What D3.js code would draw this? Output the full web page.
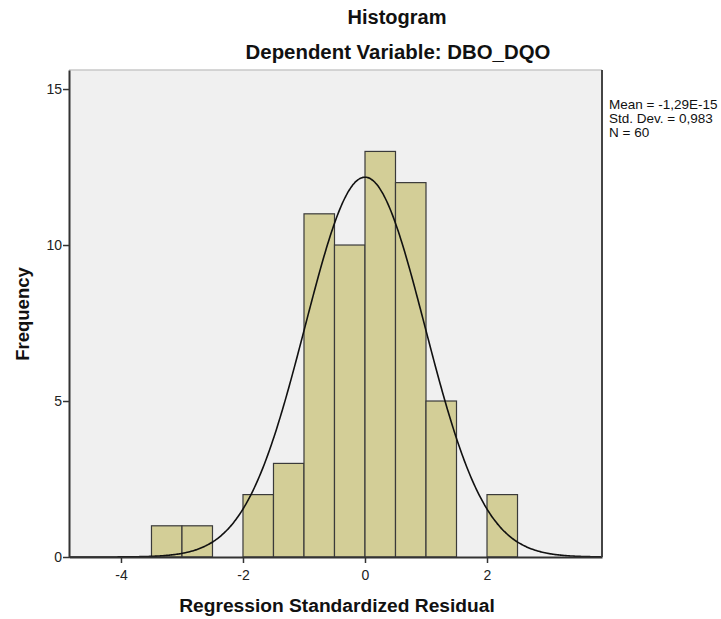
<!DOCTYPE html>
<html>
<head>
<meta charset="utf-8">
<script src="https://cdn.jsdelivr.net/npm/d3@7"></script>
<style>
  body { margin: 0; background: #fff; }
  svg { display: block; font-family: "Liberation Sans", Arial, sans-serif; }
</style>
</head>
<body>
<svg id="chart" width="721" height="619"></svg>
<script>
// Data
const binStarts = [-3.5, -3.0, -2.0, -1.5, -1.0, -0.5, 0.0, 0.5, 1.0, 2.0];
const binWidth = 0.5;
const counts = [1, 1, 2, 3, 11, 10, 13, 12, 5, 2];
const xTicks = [-4, -2, 0, 2];
const yTicks = [0, 5, 10, 15];
const statsLines = ["Mean = -1,29E-15", "Std. Dev. = 0,983", "N = 60"];
const meanVal = 0;
const sdVal = 0.983;
const nVal = 60;

const svg = d3.select("#chart");
const L = 69, R = 602, T = 70, B = 557;

const x = d3.scaleLinear().domain([-4.852, 3.885]).range([L, R]);
const y = d3.scaleLinear().domain([0, 15.61]).range([B, T]);

// plot background
svg.append("rect").attr("x", L).attr("y", T).attr("width", R - L).attr("height", B - T)
  .attr("fill", "#f0f0f0");

// bars
svg.append("g").selectAll("rect").data(binStarts).join("rect")
  .attr("x", (d) => x(d))
  .attr("y", (d, i) => y(counts[i]))
  .attr("width", (d) => x(d + binWidth) - x(d))
  .attr("height", (d, i) => y(0) - y(counts[i]))
  .attr("fill", "#d3ce97")
  .attr("stroke", "#3a3a3a")
  .attr("stroke-width", 1.2);

// normal curve (fitted from mean, sd, N shown in the chart)
const scaleF = nVal * binWidth / (sdVal * Math.sqrt(2 * Math.PI));
const curvePts = d3.range(x.domain()[0], x.domain()[1] + 0.001, 0.02)
  .map((v) => [v, scaleF * Math.exp(-0.5 * Math.pow((v - meanVal) / sdVal, 2))]);
svg.append("path").datum(curvePts)
  .attr("fill", "none").attr("stroke", "#111").attr("stroke-width", 1.6)
  .attr("d", d3.line().x((d) => x(d[0])).y((d) => y(d[1])).curve(d3.curveBasis));

// borders
svg.append("line").attr("x1", L).attr("x2", R).attr("y1", T).attr("y2", T)
  .attr("stroke", "#c8c8c8").attr("stroke-width", 1.5);
svg.append("line").attr("x1", R).attr("x2", R).attr("y1", T).attr("y2", B)
  .attr("stroke", "#444").attr("stroke-width", 2);

// axes
const fmt = (d) => String(d);
const xAxis = svg.append("g").attr("transform", `translate(0,${B})`)
  .call(d3.axisBottom(x).tickValues(xTicks).tickSize(6).tickSizeOuter(0).tickFormat(fmt));
const yAxis = svg.append("g").attr("transform", `translate(${L},0)`)
  .call(d3.axisLeft(y).tickValues(yTicks).tickSize(6).tickSizeOuter(0).tickFormat(fmt));
[xAxis, yAxis].forEach((g) => {
  g.select(".domain").attr("stroke", "#333").attr("stroke-width", 2);
  g.selectAll(".tick line").attr("stroke", "#333").attr("stroke-width", 1.5);
  g.selectAll(".tick text").attr("fill", "#222").style("font-size", "14px")
    .style("font-family", "'Liberation Sans', Arial, sans-serif");
});
xAxis.selectAll(".tick text").attr("dy", "1.0em");
yAxis.selectAll(".tick text").attr("x", -7);

// titles
svg.append("text").attr("x", 397).attr("y", 24).attr("text-anchor", "middle")
  .style("font-size", "20px").style("font-weight", "bold").attr("fill", "#111").text("Histogram");
svg.append("text").attr("x", 398).attr("y", 59).attr("text-anchor", "middle")
  .style("font-size", "20.4px").style("font-weight", "bold").attr("fill", "#111").text("Dependent Variable: DBO_DQO");

// axis labels
svg.append("text").attr("x", 337).attr("y", 612).attr("text-anchor", "middle")
  .style("font-size", "19.2px").style("font-weight", "bold").attr("fill", "#111")
  .text("Regression Standardized Residual");
svg.append("text").attr("transform", "translate(29,314) rotate(-90)").attr("text-anchor", "middle")
  .style("font-size", "18.5px").style("font-weight", "bold").attr("fill", "#111").text("Frequency");

// stats legend
svg.append("g").selectAll("text").data(statsLines).join("text")
  .attr("x", 609).attr("y", (d, i) => 109 + i * 14)
  .style("font-size", "13.5px").attr("fill", "#111").text((d) => d);
</script>
</body>
</html>
